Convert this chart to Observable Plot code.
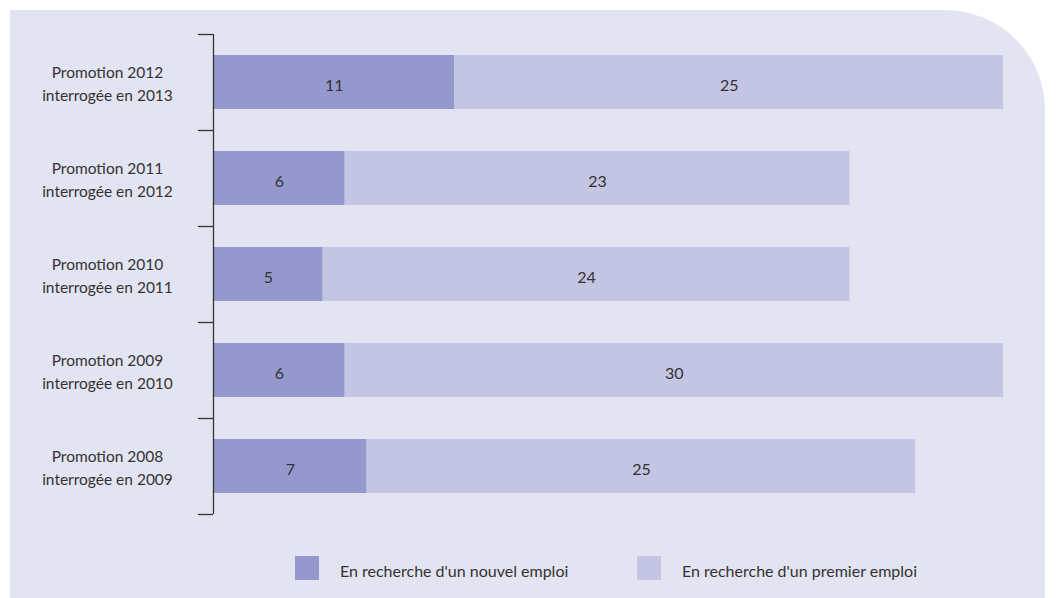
<!DOCTYPE html>
<html>
<head>
<meta charset="utf-8">
<script src="https://cdn.jsdelivr.net/npm/d3@7"></script>
<script src="https://cdn.jsdelivr.net/npm/@observablehq/plot@0.6"></script>
<style>
  html, body { margin: 0; padding: 0; background: #ffffff; }
  body { width: 1060px; height: 598px; position: relative; overflow: hidden; font-family: Lato, "Open Sans", sans-serif; }
  #panel { position: absolute; left: 10px; top: 10px; width: 1035px; height: 588px; background: #e3e4f2; border-top-right-radius: 100px; }
  #chart { position: absolute; left: 0; top: 0; }
  #legend { position: absolute; left: 0; top: 556px; width: 1060px; height: 24px; font-size: 16px; color: #333; }
  .item { position: absolute; top: 0; display: flex; align-items: center; height: 24px; }
  .sw { width: 24px; height: 24px; display: inline-block; }
  .lab { margin-left: 21px; padding-top: 5px; }
</style>
</head>
<body>
<div id="panel"></div>
<div id="chart"></div>
<div id="legend"></div>
<script>
const categories = [
  "Promotion 2012\ninterrogée en 2013",
  "Promotion 2011\ninterrogée en 2012",
  "Promotion 2010\ninterrogée en 2011",
  "Promotion 2009\ninterrogée en 2010",
  "Promotion 2008\ninterrogée en 2009"
];
const nouvelEmploi = [11, 6, 5, 6, 7];
const premierEmploi = [25, 23, 24, 30, 25];
const seriesNames = ["En recherche d'un nouvel emploi", "En recherche d'un premier emploi"];
const seriesColors = ["#9598cc", "#c4c4e3"];

const table = [];
categories.forEach((c, i) => {
  table.push({i, cat: c, series: seriesNames[0], value: nouvelEmploi[i], x1: 0, x2: nouvelEmploi[i]});
  table.push({i, cat: c, series: seriesNames[1], value: premierEmploi[i], x1: nouvelEmploi[i], x2: nouvelEmploi[i] + premierEmploi[i]});
});
const half = 0.28125;
const boundaries = d3.range(categories.length + 1).map(k => k - 0.5);

const chart = Plot.plot({
  width: 1060,
  height: 540,
  marginLeft: 213,
  marginRight: 57,
  marginTop: 34,
  marginBottom: 26,
  style: {background: "transparent", fontFamily: "Lato, 'Open Sans', sans-serif", fontSize: "15px", color: "#333"},
  x: {domain: [0, 36], axis: null},
  y: {domain: [-0.5, categories.length - 0.5], reverse: true, axis: null},
  color: {domain: seriesNames, range: seriesColors},
  marks: [
    Plot.rectX(table, {x1: "x1", x2: "x2", y1: d => d.i - half, y2: d => d.i + half, fill: "series"}),
    Plot.text(table, {x: d => (d.x1 + d.x2) / 2, y: "i", text: "value", fill: "#333", fontSize: 16, dy: 3}),
    Plot.ruleX([0], {stroke: "#333", strokeWidth: 1.3}),
    Plot.axisY({ticks: boundaries, tickSize: 15, tickFormat: () => "", label: null, stroke: "#333", strokeWidth: 1.3}),
    Plot.text(categories, {y: (d, k) => k, text: d => d, frameAnchor: "left", textAnchor: "middle", dx: -106, dy: 0, fill: "#333", fontSize: 15.5, lineHeight: 1.45})
  ]
});
document.getElementById("chart").appendChild(chart);

const legend = document.getElementById("legend");
const lefts = [295, 637];
seriesNames.forEach((s, k) => {
  const item = document.createElement("div");
  item.className = "item";
  item.style.left = lefts[k] + "px";
  const sw = document.createElement("span");
  sw.className = "sw";
  sw.style.background = seriesColors[k];
  const lab = document.createElement("span");
  lab.className = "lab";
  lab.textContent = s;
  item.appendChild(sw);
  item.appendChild(lab);
  legend.appendChild(item);
});
</script>
</body>
</html>
